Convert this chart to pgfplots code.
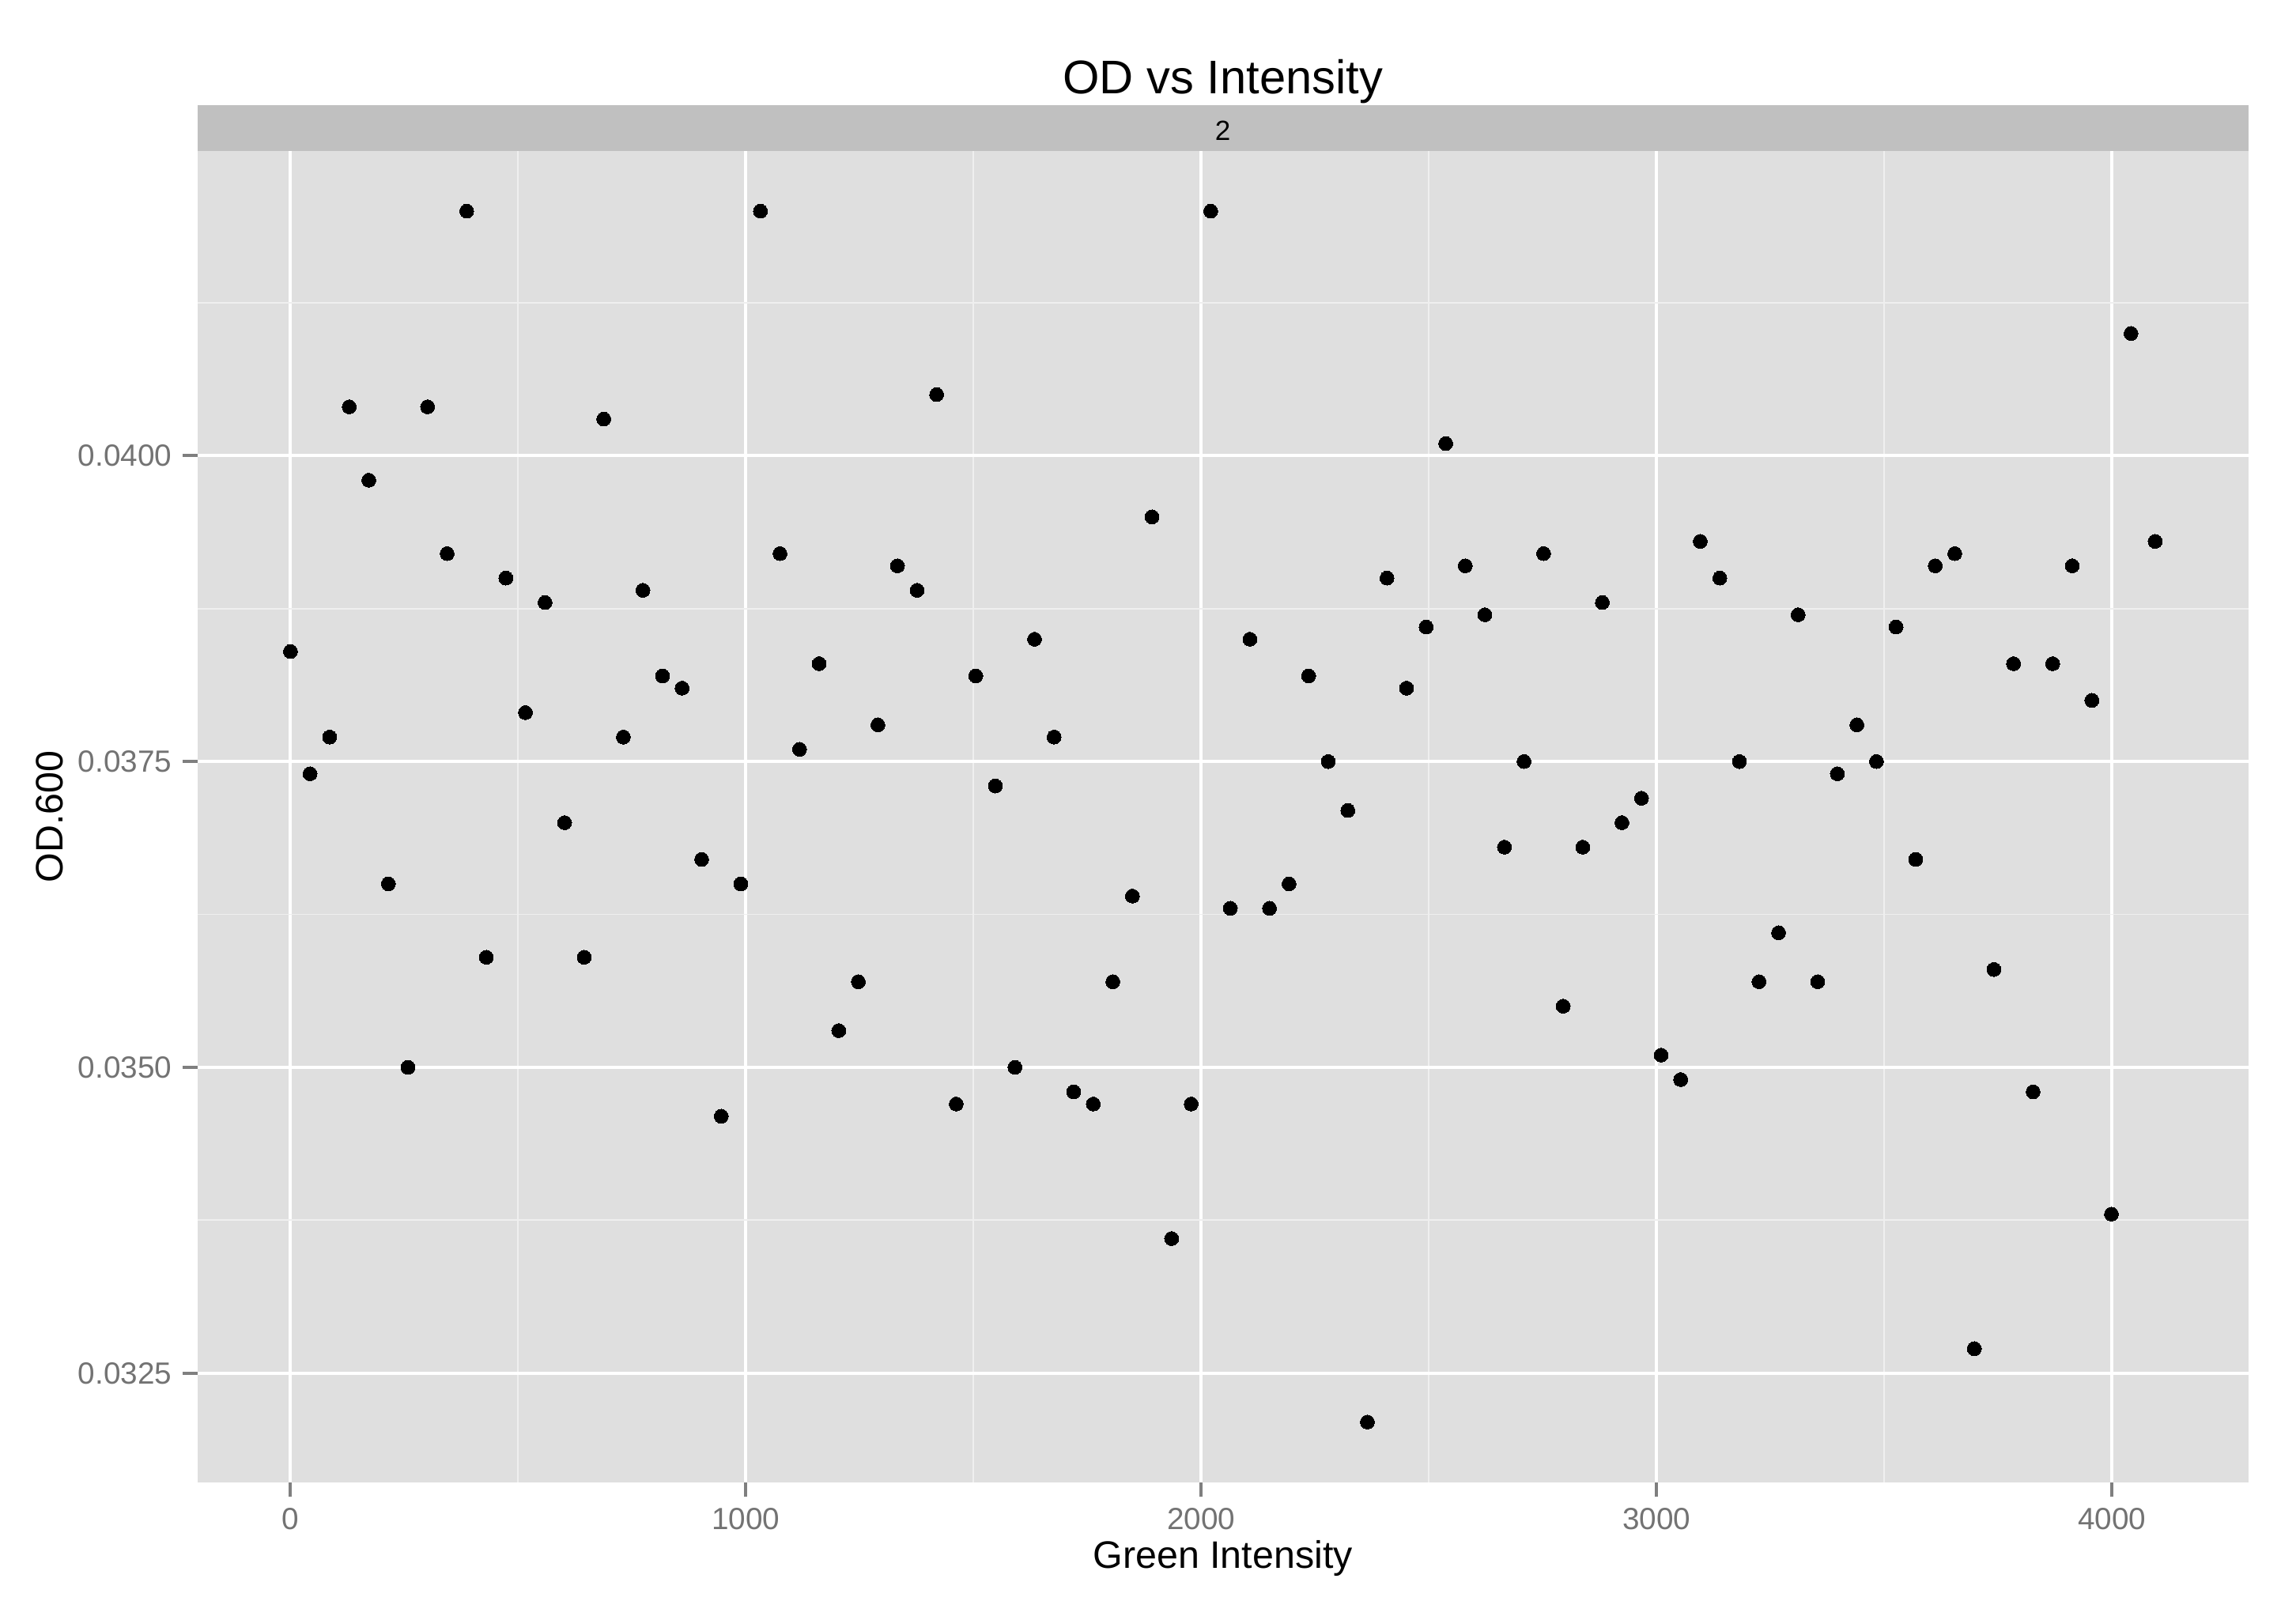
\documentclass[border=0pt]{standalone}
\usepackage{fontspec}
\setmainfont{Liberation Sans}
\usepackage{pgfplots}
\pgfplotsset{compat=1.18}
\definecolor{panelbg}{HTML}{DFDFDF}
\definecolor{stripbg}{HTML}{C0C0C0}
\definecolor{minorgrid}{HTML}{EFEFEF}
\definecolor{tickgrey}{HTML}{7F7F7F}
\definecolor{labgrey}{HTML}{737373}

\pgfplotstableread{
x y
0 0.0384
43 0.0374
86 0.0377
129 0.0404
172 0.0398
215 0.0365
258 0.0350
301 0.0404
344 0.0392
387 0.0420
430 0.0359
473 0.0390
516 0.0379
559 0.0388
602 0.0370
645 0.0359
688 0.0403
731 0.0377
774 0.0389
817 0.0382
860 0.0381
903 0.0367
946 0.0346
989 0.0365
1032 0.0420
1075 0.0392
1118 0.0376
1161 0.0383
1204 0.0353
1247 0.0357
1290 0.0378
1333 0.0391
1376 0.0389
1419 0.0405
1462 0.0347
1505 0.0382
1548 0.0373
1591 0.0350
1634 0.0385
1677 0.0377
1720 0.0348
1763 0.0347
1806 0.0357
1849 0.0364
1892 0.0395
1935 0.0336
1978 0.0347
2021 0.0420
2064 0.0363
2107 0.0385
2150 0.0363
2193 0.0365
2236 0.0382
2279 0.0375
2322 0.0371
2365 0.0321
2408 0.0390
2451 0.0381
2494 0.0386
2537 0.0401
2580 0.0391
2623 0.0387
2666 0.0368
2709 0.0375
2752 0.0392
2795 0.0355
2838 0.0368
2881 0.0388
2924 0.0370
2967 0.0372
3010 0.0351
3053 0.0349
3096 0.0393
3139 0.0390
3182 0.0375
3225 0.0357
3268 0.0361
3311 0.0387
3354 0.0357
3397 0.0374
3440 0.0378
3483 0.0375
3526 0.0386
3569 0.0367
3612 0.0391
3655 0.0392
3698 0.0327
3741 0.0358
3784 0.0383
3827 0.0348
3870 0.0383
3913 0.0391
3956 0.0380
3999 0.0338
4042 0.0410
4095 0.0393
}\datatable

\begin{document}
\begin{tikzpicture}
\path[use as bounding box] (0,0) rectangle (720bp,503.1bp);
\begin{axis}[
  at={(61.86bp,38.18bp)}, anchor=south west,
  scale only axis, width=643.2bp, height=417.7bp,
  xmin=-204.75, xmax=4299.75, ymin=0.031605, ymax=0.042495,
  axis background/.style={fill=panelbg},
  axis line style={draw=none},
  xtick={0,1000,2000,3000,4000},
  ytick={0.0325,0.035,0.0375,0.04},
  minor xtick={500,1500,2500,3500},
  minor ytick={0.03375,0.03625,0.03875,0.04125},
  grid=both,
  major grid style={white, line width=1bp},
  minor grid style={minorgrid, line width=0.45bp},
  tick align=outside,
  xtick pos=bottom, ytick pos=left,
  major tick length=4.5bp, minor tick length=0pt,
  every tick/.style={tickgrey, line width=1bp},
  ticklabel style={font=\fontsize{9.6bp}{11bp}\selectfont, text=labgrey},
  /pgf/number format/assume math mode=true,
  xticklabel style={/pgf/number format/1000 sep={}},
  yticklabel style={/pgf/number format/fixed, /pgf/number format/fixed zerofill, /pgf/number format/precision=4},
  scaled y ticks=false,
  scaled x ticks=false,
]
\addplot[only marks, mark=*, mark size=2.2bp, mark options={fill=black, draw=black, line width=0pt}] table[x=x, y=y] {\datatable};
\end{axis}
\fill[stripbg] (61.86bp,455.85bp) rectangle (705.06bp,470.1bp);
\node[anchor=base, inner sep=0pt, font=\fontsize{8.7bp}{10bp}\selectfont] at (383.46bp,459.2bp) {2};
\node[anchor=base, inner sep=0pt, font=\fontsize{14.8bp}{17bp}\selectfont] at (383.46bp,473.7bp) {OD vs Intensity};
\node[anchor=base, inner sep=0pt, font=\fontsize{12bp}{14bp}\selectfont] at (383.46bp,11.2bp) {Green Intensity};
\node[anchor=base, inner sep=0pt, rotate=90, font=\fontsize{12bp}{14bp}\selectfont] at (19.8bp,247bp) {OD.600};
\end{tikzpicture}
\end{document}
